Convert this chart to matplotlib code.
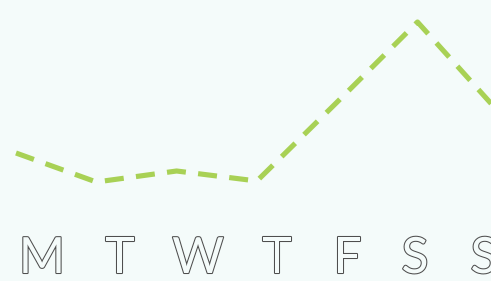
import matplotlib
matplotlib.use("Agg")
import matplotlib.pyplot as plt
import matplotlib.patheffects as pe

days = ["M", "T", "W", "T", "F", "S", "S"]
values = [128, 99, 110, 100, 179, 259, 170]

BG = "#f4fbfa"
LINE = "#a8d155"
W, H = 491, 281

fig = plt.figure(figsize=(W / 100, H / 100), dpi=100, facecolor=BG)
ax = fig.add_axes([0, 0, 1, 1])
ax.set_facecolor(BG)
ax.set_axis_off()

x = list(range(len(days)))
x0, step = 16.0, 80.3
ax.set_xlim(-x0 / step, (W - x0) / step)
ax.set_ylim(0, H)
ax.plot(x, values, color=LINE, lw=3.7, dashes=(3.7, 2.4), dash_capstyle="butt",
        solid_joinstyle="miter", clip_on=True)

label_cx = [42, 119.5, 198, 277, 347.5, 415, 484]
for d, cx in zip(days, label_cx):
    t = fig.text(cx / W, (H - 273) / H, d, ha="center", va="baseline",
                 fontsize=36, family="Lato", fontweight="normal", color=BG)
    t.set_path_effects([pe.Stroke(linewidth=1.5, foreground="#4e4e4e"), pe.Normal()])

fig.savefig("out.png", dpi=100, facecolor=BG)
